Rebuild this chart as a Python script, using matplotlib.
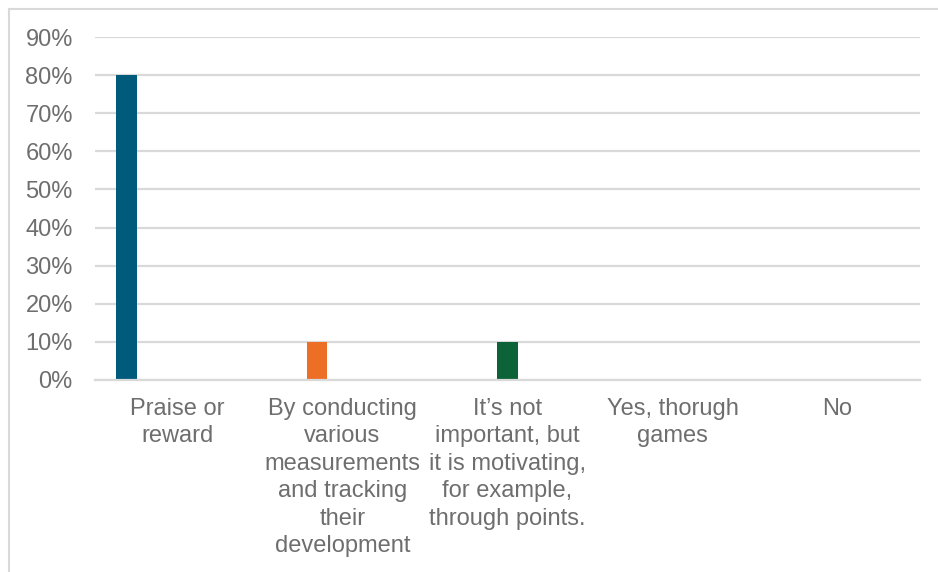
import matplotlib
matplotlib.use("Agg")
import matplotlib.pyplot as plt
from matplotlib.lines import Line2D
import numpy as np

plt.rcParams['font.family'] = ['Liberation Sans', 'DejaVu Sans']

categories = [
    "Praise or\nreward",
    "By conducting\nvarious\nmeasurements\nand tracking\ntheir\ndevelopment",
    "It\u2019s not\nimportant, but\nit is motivating,\nfor example,\nthrough points.",
    "Yes, thorugh\ngames",
    "No",
]
# one series per answer; each series only has a value in its own category
series_values = [
    [0.80, 0.0, 0.0, 0.0, 0.0],
    [0.0, 0.10, 0.0, 0.0, 0.0],
    [0.0, 0.0, 0.10, 0.0, 0.0],
    [0.0, 0.0, 0.0, 0.0, 0.0],
    [0.0, 0.0, 0.0, 0.0, 0.0],
]
series_colors = ["#005A7C", "#EC6F25", "#0B6337", "#7F7F7F", "#A5A5A5"]
yticks = [0.0, 0.1, 0.2, 0.3, 0.4, 0.5, 0.6, 0.7, 0.8, 0.9]
ytick_labels = ["0%", "10%", "20%", "30%", "40%", "50%", "60%", "70%", "80%", "90%"]

fig = plt.figure(figsize=(9.38, 5.72), dpi=100)
ax = fig.add_axes([95 / 938, 1 - 380 / 572, 825 / 938, 343 / 572])

x = np.arange(len(categories))
step = 0.155
width = 0.125
n = len(series_values)
for i, (vals, col) in enumerate(zip(series_values, series_colors)):
    offs = (i - (n - 1) / 2) * step
    ax.bar(x + offs, vals, width=width, color=col, zorder=3)

ax.set_xlim(-0.5, len(categories) - 0.5)
ax.set_ylim(0, 0.9)
ax.set_yticks(yticks)
ax.set_yticklabels(ytick_labels)
ax.set_xticks(x)
ax.set_xticklabels(categories, linespacing=1.32, va="top")

text_color = "#6E6E6E"
ax.tick_params(axis="y", length=0, pad=16, labelsize=17, labelcolor=text_color)
ax.tick_params(axis="x", length=0, pad=13, labelsize=17, labelcolor=text_color)

ax.grid(axis="y", color="#D9D9D9", linewidth=1.6, zorder=0)
for s in ["top", "right", "left"]:
    ax.spines[s].set_visible(False)
ax.spines["bottom"].set_color("#D9D9D9")
ax.spines["bottom"].set_linewidth(1.6)
ax.spines["bottom"].set_zorder(4)

# chart frame (top and left edges visible)
fig.add_artist(Line2D([8.5 / 938, 1.0], [1 - 8.5 / 572, 1 - 8.5 / 572],
                      transform=fig.transFigure, color="#D9D9D9", linewidth=1.5))
fig.add_artist(Line2D([8.5 / 938, 8.5 / 938], [0.0, 1 - 8.5 / 572],
                      transform=fig.transFigure, color="#D9D9D9", linewidth=1.5))

fig.savefig("out.png", dpi=100, facecolor="white")
